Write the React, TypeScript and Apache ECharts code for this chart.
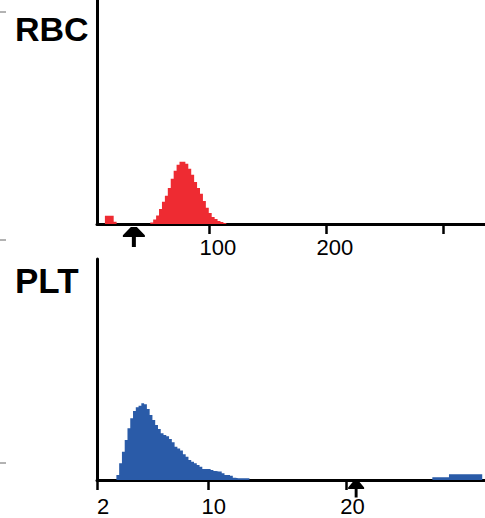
import React, { useEffect, useRef } from "react";
import * as echarts from "echarts";

// ---- RBC histogram (fL) ----
const rbcTicks = [100, 200, 300];
const rbcTickLabels = [100, 200];
const rbcBinWidth = 2.5;
const rbcBumpStart = 11.25;
const rbcBump = [3.7, 3.7, 3.7, 1.0];
const rbcMainStart = 50;
const rbcMain = [
  0.7, 2.0, 3.8, 6.7, 9.9, 12.6, 16.1, 20.2, 23.8, 26.5, 27.8, 27.8, 26.9,
  24.7, 22.0, 18.8, 16.1, 13.5, 10.3, 7.2, 4.9, 3.1, 2.2, 1.3, 0.9, 0.4,
];
const rbcMarker = [36];

// ---- PLT histogram (fL) ----
const pltTicks = [2, 10, 20];
const pltTickLabels = [2, 10, 20];
const pltBinWidth = 0.2;
const pltMainStart = 3.4;
const pltMain = [
  2.3, 7.6, 12.8, 18.1, 23.4, 27.9, 31.2, 32.9, 33.6, 34.7, 34.3, 32.1, 29.4,
  27.1, 24.9, 23.1, 21.1, 20.4, 19.8, 18.6, 17.1, 15.1, 14.3, 13.3, 11.6, 10.5,
  9.0, 8.3, 7.6, 6.8, 6.0, 5.0, 5.0, 5.0, 4.5, 4.1, 3.8, 3.8, 3.0, 2.3, 2.3,
  1.9, 1.0, 0.8, 0.8, 0.8, 0.8, 0.8,
];
const pltTailStart = 26.2;
const pltTail = [
  1.3, 1.3, 1.3, 1.3, 1.3, 1.3, 2.6, 2.6, 2.6, 2.6, 2.6, 2.6, 2.6, 2.6, 2.6,
  2.6, 2.6, 2.6,
];
const pltMarker = [20.7];

const RED = "#EE2B32";
const BLUE = "#2A5BA8";
const ARROW =
  "path://M8,0 L14,0 L22,9 L22,11 L13,11 L13,22 L9,22 L9,11 L0,11 L0,9 Z";

function histogram(segments: [number, number[]][], w: number) {
  const pts: number[][] = [];
  for (const [start, vals] of segments) {
    pts.push([start, 0]);
    vals.forEach((v, i) => pts.push([start + i * w, v]));
    pts.push([start + vals.length * w, 0]);
  }
  return pts;
}

export default function App() {
  const ref = useRef<HTMLDivElement>(null);
  useEffect(() => {
    document.body.style.margin = "0";
    if (!ref.current) return;
    const chart = echarts.init(ref.current, undefined, { renderer: "svg" });
    const axisLine = { show: true, lineStyle: { color: "#000", width: 3 } };
    const labelFont = {
      color: "#000",
      fontSize: 22,
      fontFamily: "'Liberation Sans', Arial, sans-serif",
    };
    chart.setOption({
      animation: false,
      backgroundColor: "#fff",
      grid: [
        { left: 97, top: 0, width: 388, height: 224 },
        { left: 97, top: 259, width: 388, height: 221 },
      ],
      xAxis: [
        {
          type: "value",
          gridIndex: 0,
          min: 4.5,
          max: 336,
          axisLine,
          splitLine: { show: false },
          axisTick: {
            show: true,
            customValues: rbcTicks,
            length: 10,
            lineStyle: { color: "#000", width: 2.5 },
          },
          axisLabel: {
            ...labelFont,
            customValues: rbcTickLabels,
            margin: 12,
            padding: [0, 0, 0, 18],
          },
        },
        {
          type: "value",
          gridIndex: 1,
          min: 2,
          max: 30,
          axisLine,
          splitLine: { show: false },
          axisTick: {
            show: true,
            customValues: pltTicks,
            length: 10,
            lineStyle: { color: "#000", width: 2.5 },
          },
          axisLabel: {
            ...labelFont,
            customValues: pltTickLabels,
            margin: 15,
            padding: [0, 0, 0, 12],
          },
        },
      ],
      yAxis: [0, 1].map((i) => ({
        type: "value",
        gridIndex: i,
        min: 0,
        max: 100,
        axisLine,
        axisTick: { show: false },
        axisLabel: { show: false },
        splitLine: { show: false },
      })),
      series: [
        {
          type: "line",
          xAxisIndex: 0,
          yAxisIndex: 0,
          step: "end",
          symbol: "none",
          lineStyle: { width: 0, color: RED },
          areaStyle: { color: RED, opacity: 1 },
          data: histogram(
            [
              [rbcBumpStart, rbcBump],
              [rbcMainStart, rbcMain],
            ],
            rbcBinWidth
          ),
        },
        {
          type: "line",
          xAxisIndex: 1,
          yAxisIndex: 1,
          step: "end",
          symbol: "none",
          lineStyle: { width: 0, color: BLUE },
          areaStyle: { color: BLUE, opacity: 1 },
          data: histogram(
            [
              [pltMainStart, pltMain],
              [pltTailStart, pltTail],
            ],
            pltBinWidth
          ),
        },
        {
          type: "scatter",
          xAxisIndex: 0,
          yAxisIndex: 0,
          clip: false,
          z: 10,
          symbol: ARROW,
          symbolSize: [22, 20],
          symbolOffset: [0, 13],
          itemStyle: { color: "#000", opacity: 1 },
          data: rbcMarker.map((v) => [v, 0]),
        },
        {
          type: "scatter",
          xAxisIndex: 1,
          yAxisIndex: 1,
          clip: false,
          z: 10,
          symbol: ARROW,
          symbolSize: [16, 17],
          symbolOffset: [0, 9],
          itemStyle: { color: "#000", opacity: 1 },
          data: pltMarker.map((v) => [v, 0]),
        },
      ],
      graphic: [
        {
          type: "text",
          left: 15,
          top: 12,
          style: {
            text: "RBC",
            font: "bold 34px 'Liberation Sans', Arial, sans-serif",
            fill: "#000",
          },
        },
        {
          type: "text",
          left: 15,
          top: 263,
          style: {
            text: "PLT",
            font: "bold 35px 'Liberation Sans', Arial, sans-serif",
            fill: "#000",
          },
        },
        {
          type: "line",
          shape: { x1: 0, y1: 12, x2: 6, y2: 12 },
          style: { stroke: "#666", lineWidth: 1 },
        },
        {
          type: "line",
          shape: { x1: 0, y1: 240, x2: 6, y2: 240 },
          style: { stroke: "#666", lineWidth: 1 },
        },
        {
          type: "line",
          shape: { x1: 0, y1: 463, x2: 6, y2: 463 },
          style: { stroke: "#666", lineWidth: 1 },
        },
      ],
    });
    return () => chart.dispose();
  }, []);
  return <div ref={ref} style={{ width: 485, height: 518 }} />;
}
